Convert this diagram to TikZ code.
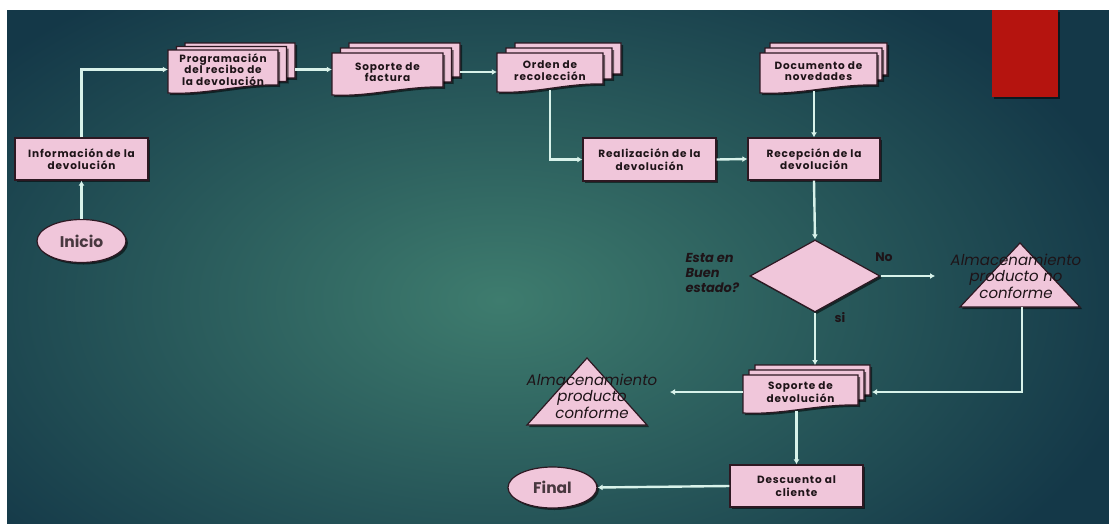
\documentclass[tikz,border=0pt]{standalone}
\usepackage{fontspec}
\setmainfont{Poppins}
\newfontfamily\boxfont{Poppins}[LetterSpace=8]
\usetikzlibrary{arrows.meta,shadows,shapes.geometric}
\definecolor{pinkf}{HTML}{F0C6DA}
\definecolor{bord}{HTML}{2E1822}
\definecolor{arrc}{HTML}{D8F2EA}
\definecolor{bgin}{HTML}{3E7C6E}
\definecolor{bgout}{HTML}{143848}
\definecolor{redbox}{HTML}{B5140F}
\definecolor{txtc}{HTML}{1E1418}
\tikzset{
  shad/.style={drop shadow={shadow xshift=2pt,shadow yshift=-2pt,opacity=0.55,fill=black}},
  boxst/.style={rectangle, fill=pinkf, draw=bord, line width=1.2pt, shad, inner sep=0pt, align=center,
    font=\boxfont\fontsize{10.5}{12.5}\selectfont\bfseries, text=txtc},
  docfill/.style={fill=pinkf, draw=bord, line width=1.2pt, shad},
  doctext/.style={inner sep=0pt, align=center, font=\boxfont\fontsize{10.5}{11.5}\selectfont\bfseries, text=txtc},
  ellst/.style={ellipse, fill=pinkf, draw=bord, line width=1.2pt, shad, inner sep=0pt,
    font=\fontsize{15.5}{17}\selectfont\bfseries, text=txtc!80!pinkf},
  arr/.style={draw=arrc, line width=2.4pt, -{Latex[length=5pt,width=6pt]}},
  tritext/.style={align=center, font=\fontsize{15}{16.5}\selectfont\itshape, text=txtc},
  qtext/.style={align=left, font=\fontsize{13}{15}\selectfont\bfseries\itshape, text=txtc},
  lbl/.style={font=\fontsize{12.5}{14}\selectfont\bfseries, text=txtc},
}
\newcommand\docpath[4]{%
  \filldraw[docfill] ({#1-#3/2},{#2-#4/2}) -- ({#1+#3/2},{#2-#4/2}) -- ({#1+#3/2},{#2+#4/2-8})
    .. controls ({#1+#3/2-0.35*#3},{#2+#4/2-9}) and ({#1-#3/2+0.35*#3},{#2+#4/2+2}) .. ({#1-#3/2},{#2+#4/2}) -- cycle;}
\newcommand\multidoc[8]{%
  \docpath{#2+2*#6}{#3-2*#7}{#4}{#5}
  \docpath{#2+#6}{#3-#7}{#4}{#5}
  \docpath{#2}{#3}{#4}{#5}
  \node[doctext, minimum width=#4, minimum height=#5, yshift=2pt] (#1) at (#2,#3) {#8};}
\begin{document}
\begin{tikzpicture}[x=1pt,y=-1pt]
\useasboundingbox (0,0) rectangle (1109,523);
\fill[white] (0,0) rectangle (1109,523);
\begin{scope}
  \clip (7,10) rectangle (1109,523);
  \shade[inner color=bgin, outer color=bgout] (-150,-80) rectangle (1150,680);
\end{scope}
\fill[redbox, shad] (992,10) rectangle (1058,97);

% nodes
\node[boxst, minimum width=133, minimum height=42] (info) at (81.5,159) {Información de la\\devolución};
\node[ellst, minimum width=89, minimum height=43] (inicio) at (81.5,241) {Inicio};
\multidoc{prog}{223}{71.5}{110}{43}{8.5}{3.5}{Programación\\del recibo de\\la devolución}
\multidoc{fact}{387.5}{74}{111}{42}{8.5}{5}{Soporte de\\factura}
\multidoc{orden}{550}{72.5}{106}{39}{9}{5}{Orden de\\recolección}
\multidoc{docnov}{818.5}{73}{117}{40}{5}{5}{Documento de\\novedades}
\node[boxst, minimum width=133, minimum height=43] (realiz) at (649.5,159.5) {Realización de la\\devolución};
\node[boxst, minimum width=132, minimum height=42] (recep) at (814,159) {Recepción de la\\devolución};
\node[diamond, fill=pinkf, draw=bord, line width=1.2pt, shad, inner sep=0pt, minimum width=130, minimum height=72] (dia) at (815,276) {};
\node[qtext, anchor=north west] (q) at (682,250) {Esta en\\Buen\\estado?};
\node[lbl] (no) at (884,257) {No};
\node[lbl] (si) at (840,318) {si};
% triangle no conforme
\filldraw[docfill] (1020,243) -- (1080,307) -- (960,307) -- cycle;
\node[tritext] (trino) at (1016,276) {Almacenamiento\\producto no\\conforme};
\coordinate (trinobot) at (1022,307);
\multidoc{sopdev}{800.5}{394}{115}{38}{6}{5}{Soporte de\\devolución}
% triangle conforme
\filldraw[docfill] (587,358) -- (647,425) -- (527,425) -- cycle;
\node[tritext] (trisi) at (592,396) {Almacenamiento\\producto\\conforme};
\node[boxst, minimum width=133, minimum height=42] (desc) at (796.5,486) {Descuento al\\cliente};
\node[ellst, minimum width=89, minimum height=41] (final) at (552.5,487.5) {Final};

% named free ends
\coordinate (noend) at (935,276);
\coordinate (sdtop) at (815,365);
\coordinate (sdright) at (872,392);
\coordinate (sdleft) at (743,392);
\coordinate (siend) at (670,392);

% connectors
\draw[arr] (inicio.north) -- (info.south);
\draw[arr] (info.north) |- (prog.west);
\draw[arr] ([xshift=17pt]prog.east) -- (prog.east -| fact.west);
\draw[arr] ([xshift=17pt]fact.east) -- (fact.east -| orden.west);
\draw[arr] (orden.south) |- (realiz.west);
\draw[arr] (realiz.east) -- (recep.west);
\draw[arr] (docnov.south -| recep.north) -- (recep.north);
\draw[arr] (recep.south) -- (dia.north);
\draw[arr] (dia.east) -- (noend);
\draw[arr] (dia.south) -- (sdtop);
\draw[arr] (trinobot) |- (sdright);
\draw[arr] (sdleft) -- (siend);
\draw[arr] (sopdev.south -| desc.north) -- (desc.north);
\draw[arr] (desc.west) -- (final.east);
\end{tikzpicture}
\end{document}
